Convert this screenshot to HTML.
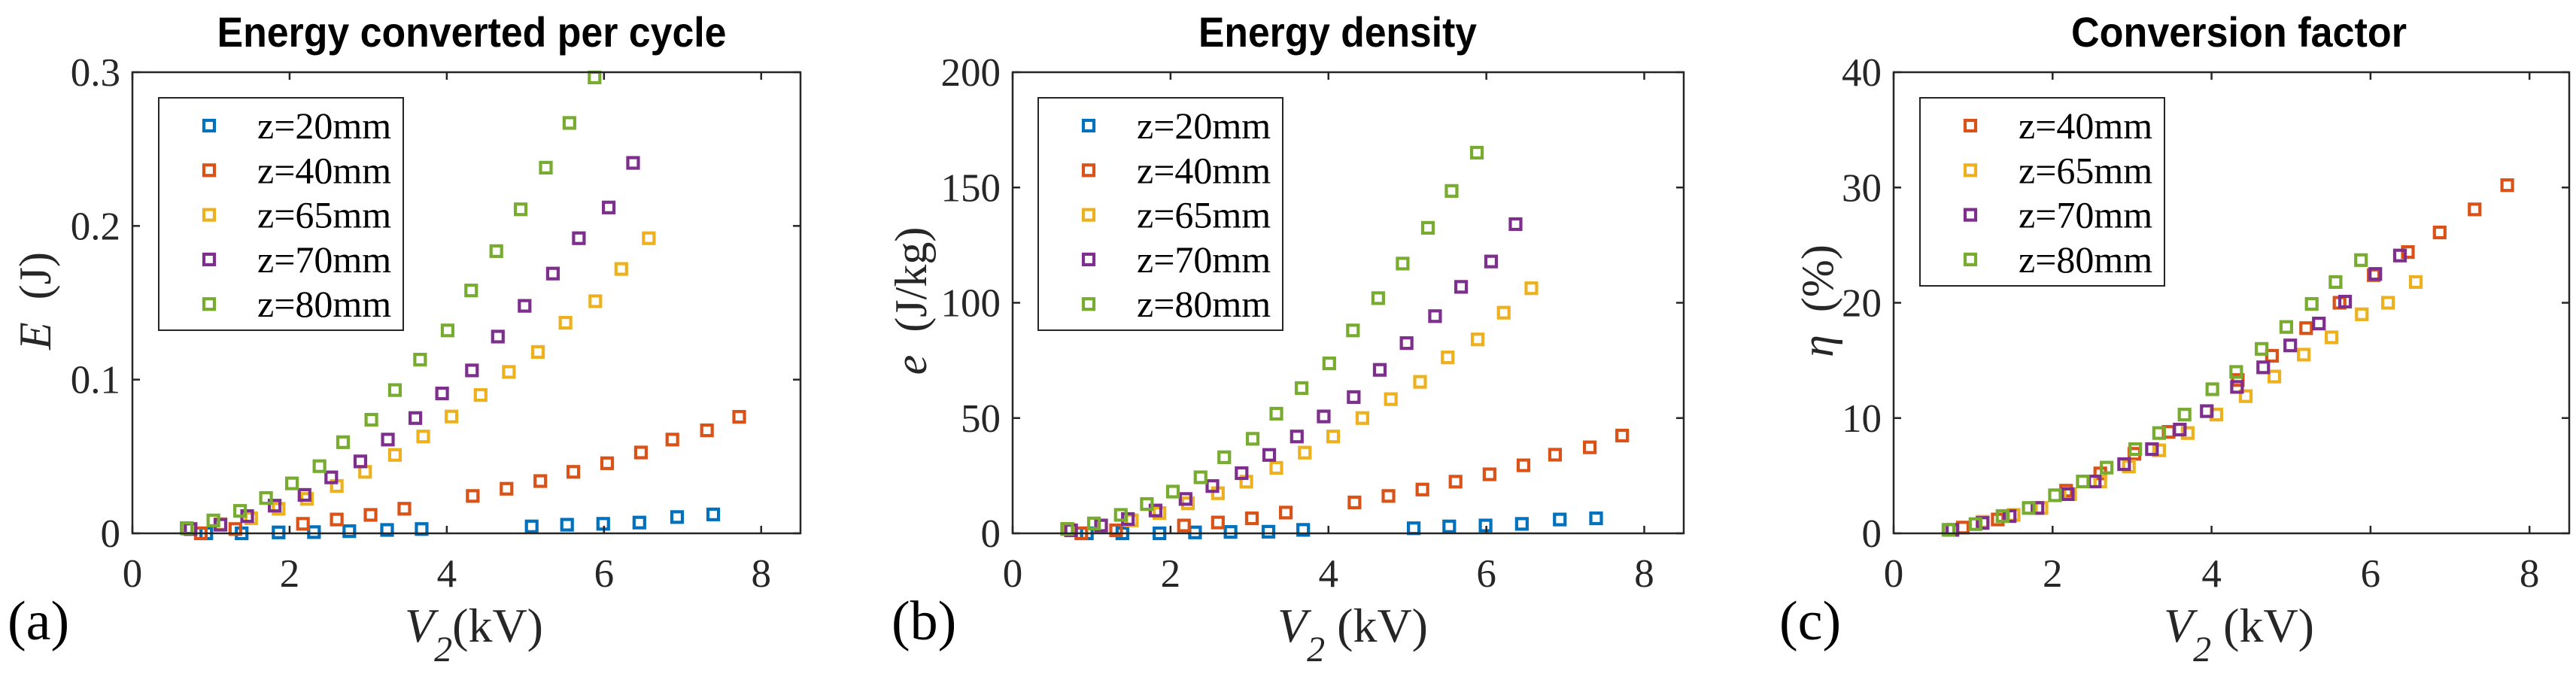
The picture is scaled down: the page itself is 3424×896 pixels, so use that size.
<!DOCTYPE html>
<html><head><meta charset="utf-8"><style>
html,body{margin:0;padding:0;background:#fff;}
svg{display:block;}
</style></head><body>
<svg id="fig" width="3424" height="896" viewBox="0 0 3424 896" xmlns="http://www.w3.org/2000/svg"></svg>
<script>
// shared x (V2, kV) per series
const xZ20 = [0.94,1.39,1.86,2.31,2.76,3.24,3.68,5.08,5.53,5.99,6.45,6.93,7.39];
const xZ40 = [0.87,1.31,2.17,2.60,3.03,3.46,4.33,4.76,5.19,5.61,6.04,6.47,6.87,7.31,7.72];
const xZ65 = [0.70,1.12,1.51,1.86,2.22,2.60,2.96,3.34,3.70,4.06,4.43,4.79,5.16,5.51,5.89,6.22,6.57];
const xZ70 = [0.74,1.12,1.46,1.81,2.19,2.53,2.90,3.25,3.60,3.94,4.32,4.65,4.99,5.35,5.68,6.06,6.37];
const xZ80 = [0.69,1.03,1.37,1.70,2.03,2.38,2.68,3.04,3.34,3.66,4.01,4.31,4.63,4.94,5.26,5.56,5.88];
// panel a: energy per cycle (J)
const aZ20 = [0,0,0.0006,0.0008,0.0014,0.0022,0.0028,0.0045,0.0056,0.0062,0.007,0.0106,0.0123];
const aZ40 = [0,0.0028,0.0062,0.009,0.012,0.016,0.0243,0.029,0.034,0.040,0.0456,0.0526,0.061,0.067,0.0758];
const aZ65 = [0.003,0.006,0.0098,0.016,0.0224,0.0308,0.040,0.051,0.063,0.076,0.090,0.105,0.118,0.137,0.151,0.172,0.192];
const aZ70 = [0.0028,0.0056,0.0112,0.018,0.025,0.0364,0.0468,0.061,0.075,0.091,0.106,0.128,0.148,0.169,0.192,0.212,0.241];
const aZ80 = [0.0034,0.0084,0.0146,0.023,0.0325,0.0437,0.0593,0.0739,0.0932,0.113,0.132,0.158,0.1836,0.2108,0.2379,0.267,0.2966];
// panel b: energy density (J/kg)
const bZ20 = [0,0,0,0.4,0.6,0.7,1.5,2.2,3.0,3.4,4.1,6,6.5];
const bZ40 = [0,1.3,3.4,4.7,6.5,9,13.4,16.2,19,22.4,25.6,29.5,34.1,37.3,42.4];
const bZ65 = [1.9,3.4,5.6,8.8,13,17.4,22.4,28.4,35,42,50,58.2,65.7,76.3,84.1,95.7,106.3];
const bZ70 = [1.3,3.4,6.2,9.9,14.9,20.5,26.1,34,42,50.7,59.1,70.9,82.5,94.2,106.9,117.9,134.1];
const bZ80 = [1.9,4.3,8,12.7,18.1,24.3,33,41,51.9,63,73.7,88,102,117,132.5,148.5,165.1];
// panel c: conversion factor (%)
const cZ40 = [0.5,1.2,3.7,5.2,6.9,8.8,13.3,15.4,17.8,20.0,22.4,24.4,26.1,28.1,30.2];
const cZ65 = [0.3,1.0,1.6,2.2,3.4,4.5,5.8,7.2,8.7,10.3,11.9,13.6,15.5,17.0,19.0,20.0,21.8];
const cZ70 = [0.3,0.9,1.5,2.2,3.4,4.5,6.0,7.3,9.0,10.6,12.7,14.4,16.3,18.2,20.1,22.5,24.1];
const cZ80 = [0.3,0.8,1.5,2.2,3.3,4.5,5.7,7.3,8.7,10.3,12.5,14.0,16.0,17.9,19.9,21.8,23.7];
const xTicks = [0,2,4,6,8];
const aTicks = [0,0.1,0.2,0.3];
const aTickLabels = ["0","0.1","0.2","0.3"];
const bTicks = [0,50,100,150,200];
const bTickLabels = ["0","50","100","150","200"];
const cTicks = [0,10,20,30,40];
const cTickLabels = ["0","10","20","30","40"];
const labelsAll = ["z=20mm","z=40mm","z=65mm","z=70mm","z=80mm"];

const C = {z20:"#0072BD",z40:"#D95319",z65:"#EDB120",z70:"#7E2F8E",z80:"#77AC30"};
const NS = "http://www.w3.org/2000/svg";
const svg = document.getElementById('fig');
function mk(tag, attrs, parent, text){
  const e = document.createElementNS(NS, tag);
  for (const k in attrs) e.setAttribute(k, attrs[k]);
  if (text !== undefined) e.textContent = text;
  (parent||svg).appendChild(e);
  return e;
}
const SERIF = '"Liberation Serif", serif';
const SANS = '"Liberation Sans", sans-serif';

function panel(p){
  const g = mk('g', {});
  
  
  const L=p.left, R=p.right, T=96, B=709;
  const xs = v => L + (v/8.5)*(R-L);
  const ys = v => B - (v/p.ymax)*(B-T);
  // title
  const t = mk('text', {x:p.titleX, y:62, 'text-anchor':'middle', 'font-family':SANS, 'font-weight':'bold', 'font-size':56, fill:'#000', textLength:p.titleW, lengthAdjust:'spacingAndGlyphs'}, g, p.title);
  
  
  // series
  p.series.forEach(s => {
    const sg = mk('g', {}, g);
    
    
    s.y.forEach((v,i) => {
      const r = mk('rect', {x:xs(s.x[i])-7, y:ys(v)-7, width:14, height:14, fill:'none', stroke:s.color, 'stroke-width':4.2}, sg);
      
      
    });
  });
  // axes box
  const box = mk('rect', {x:L, y:T, width:R-L, height:B-T, fill:'none', stroke:'#262626', 'stroke-width':2.5}, g);
  
  
  xTicks.forEach(v => {
    const x = xs(v);
    mk('line', {x1:x, y1:B, x2:x, y2:B-10, stroke:'#262626', 'stroke-width':2.5}, g);
    mk('line', {x1:x, y1:T, x2:x, y2:T+10, stroke:'#262626', 'stroke-width':2.5}, g);
    const tl = mk('text', {x:x, y:780, 'text-anchor':'middle', 'font-family':SERIF, 'font-size':53, fill:'#262626'}, g, String(v));
    
    
  });
  p.ticks.forEach((v,i) => {
    const y = ys(v);
    mk('line', {x1:L, y1:y, x2:L+10, y2:y, stroke:'#262626', 'stroke-width':2.5}, g);
    mk('line', {x1:R, y1:y, x2:R-10, y2:y, stroke:'#262626', 'stroke-width':2.5}, g);
    const tl = mk('text', {x:L-16, y:y+18, 'text-anchor':'end', 'font-family':SERIF, 'font-size':53, fill:'#262626'}, g, p.tickLabels[i]);
    
    
  });
  // x label
  const xl = mk('text', {x:p.xlab, y:853, 'text-anchor':'middle', 'font-family':SERIF, 'font-size':64, fill:'#262626'}, g);
  
  
  mk('tspan', {'font-style':'italic'}, xl, 'V');
  mk('tspan', {'font-style':'italic', 'font-size':48, dy:26}, xl, '2');
  mk('tspan', {dy:-26}, xl, p.xgap + '(kV)');
  // y label
  const yl = mk('text', {x:0, y:0, 'text-anchor':'middle', 'font-family':SERIF, 'font-size':60, fill:'#262626', transform:`translate(${p.ylab+18},400) rotate(-90)`}, g);
  
  
  mk('tspan', {'font-style':'italic'}, yl, p.ysym);
  mk('tspan', {}, yl, '\u00A0\u00A0' + p.yunit);
  // panel letter
  const pl = mk('text', {x:p.letterX, y:850, 'font-family':SERIF, 'font-size':74, fill:'#000'}, g, p.letter);
  
  
  // legend
  const n = p.series.length;
  const lg = mk('g', {}, g);
  
  
  mk('rect', {x:p.legX, y:130, width:325, height:(n===5?309:250), fill:'#fff', stroke:'#262626', 'stroke-width':2}, lg);
  p.series.forEach((s,i) => {
    const cy = 167 + i*59.3;
    const e = mk('g', {}, lg);
    
    
    mk('rect', {x:p.legX+60, y:cy-7, width:14, height:14, fill:'none', stroke:s.color, 'stroke-width':4.2}, e);
    mk('text', {x:p.legX+131, y:cy+17, 'font-family':SERIF, 'font-size':50, fill:'#000'}, e, s.label);
  });
}

panel({name:'panel-a-energy-per-cycle', title:'Energy converted per cycle', titleX:627, titleW:677, left:176, right:1064, ymax:0.3,
  ticks:aTicks, tickLabels:aTickLabels, xlab:630, xgap:'', ylab:49, ysym:'E', yunit:'(J)', letter:'(a)', letterX:10, legX:211,
  series:[{x:xZ20,y:aZ20,color:C.z20,label:labelsAll[0]},{x:xZ40,y:aZ40,color:C.z40,label:labelsAll[1]},
          {x:xZ65,y:aZ65,color:C.z65,label:labelsAll[2]},{x:xZ70,y:aZ70,color:C.z70,label:labelsAll[3]},
          {x:xZ80,y:aZ80,color:C.z80,label:labelsAll[4]}]});
panel({name:'panel-b-energy-density', title:'Energy density', titleX:1778, titleW:370, left:1346, right:2238, ymax:200,
  ticks:bTicks, tickLabels:bTickLabels, xlab:1798, xgap:'\u00A0', ylab:1213, ysym:'e', yunit:'(J/kg)', letter:'(b)', letterX:1185, legX:1380,
  series:[{x:xZ20,y:bZ20,color:C.z20,label:labelsAll[0]},{x:xZ40,y:bZ40,color:C.z40,label:labelsAll[1]},
          {x:xZ65,y:bZ65,color:C.z65,label:labelsAll[2]},{x:xZ70,y:bZ70,color:C.z70,label:labelsAll[3]},
          {x:xZ80,y:bZ80,color:C.z80,label:labelsAll[4]}]});
panel({name:'panel-c-conversion-factor', title:'Conversion factor', titleX:2976, titleW:446, left:2517, right:3415, ymax:40,
  ticks:cTicks, tickLabels:cTickLabels, xlab:2976, xgap:'\u00A0', ylab:2418, ysym:'\u03B7', yunit:'(%)', letter:'(c)', letterX:2365, legX:2552,
  series:[{x:xZ40,y:cZ40,color:C.z40,label:labelsAll[1]},{x:xZ65,y:cZ65,color:C.z65,label:labelsAll[2]},
          {x:xZ70,y:cZ70,color:C.z70,label:labelsAll[3]},{x:xZ80,y:cZ80,color:C.z80,label:labelsAll[4]}]});
</script>
</body></html>
